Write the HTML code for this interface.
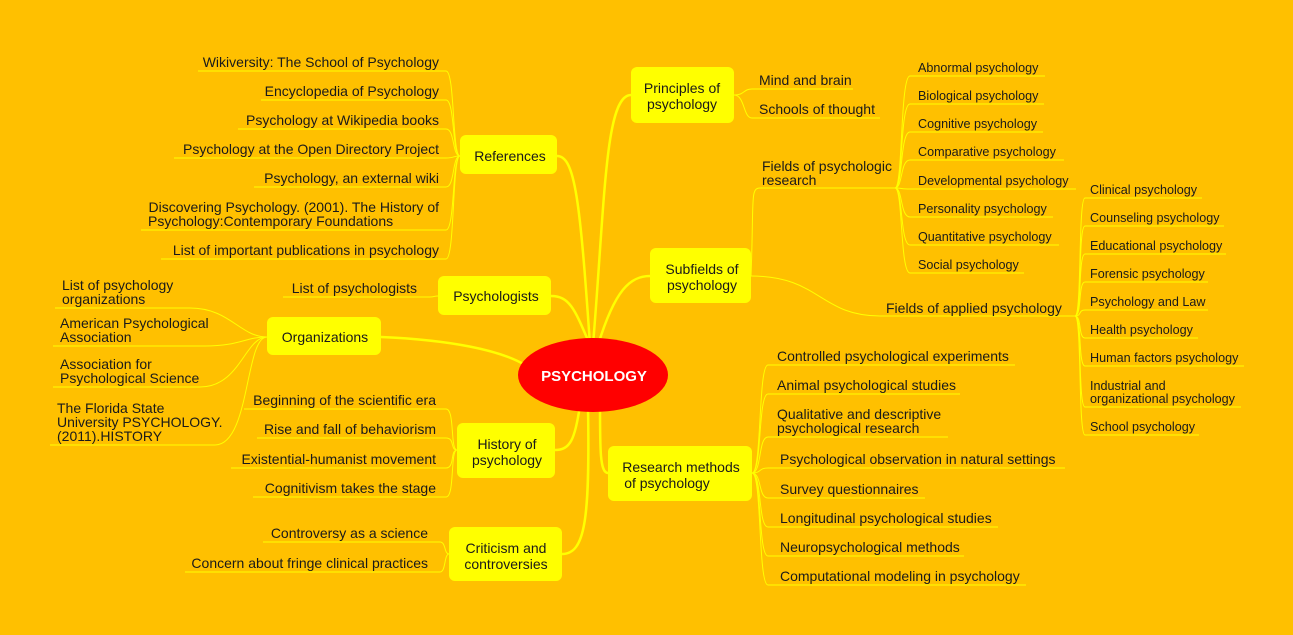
<!DOCTYPE html>
<html><head><meta charset="utf-8"><style>
html,body{margin:0;padding:0;background:#FFC000;}
svg{display:block;font-family:"Liberation Sans","DejaVu Sans",sans-serif;}
.t{font-size:14px;fill:#1a1a1a;}
.s{font-size:12.6px;fill:#1a1a1a;}
.l{stroke:#FFFF00;stroke-width:1;fill:none;}
.m{stroke:#FFFF00;stroke-width:2.5;fill:none;}
.b{fill:#FFFF00;}
</style></head><body>
<svg width="1293" height="635" viewBox="0 0 1293 635">
<rect width="1293" height="635" fill="#FFC000"/>
<path class="m" d="M593 345 C 605 200, 605 95, 631 95"/>
<path class="m" d="M590 345 C 580 200, 575 156, 557 156"/>
<path class="m" d="M598 345 C 615 290, 630 276, 650 276"/>
<path class="m" d="M590 345 C 575 310, 570 296, 551 296"/>
<path class="m" d="M381 337 C 450 340, 500 350, 525 365"/>
<path class="m" d="M580 405 C 575 440, 570 450, 555 450"/>
<path class="m" d="M600 405 C 600 450, 600 473, 608 473"/>
<path class="m" d="M588 408 C 590 520, 585 554, 562 554"/>
<rect class="b" x="631" y="67" width="103" height="56" rx="6"/>
<text class="t" x="682" y="93" text-anchor="middle">Principles of</text>
<text class="t" x="682" y="109" text-anchor="middle">psychology</text>
<rect class="b" x="460" y="135" width="97" height="39" rx="6"/>
<text class="t" x="510" y="161" text-anchor="middle">References</text>
<rect class="b" x="650" y="248" width="101" height="55" rx="6"/>
<text class="t" x="702" y="274" text-anchor="middle">Subfields of</text>
<text class="t" x="702" y="290" text-anchor="middle">psychology</text>
<rect class="b" x="438" y="276" width="113" height="39" rx="6"/>
<text class="t" x="496" y="301" text-anchor="middle">Psychologists</text>
<rect class="b" x="267" y="317" width="114" height="38" rx="6"/>
<text class="t" x="325" y="342" text-anchor="middle">Organizations</text>
<rect class="b" x="457" y="423" width="98" height="55" rx="6"/>
<text class="t" x="507" y="449" text-anchor="middle">History of</text>
<text class="t" x="507" y="465" text-anchor="middle">psychology</text>
<rect class="b" x="608" y="446" width="144" height="55" rx="6"/>
<text class="t" x="681" y="472" text-anchor="middle">Research methods</text>
<text class="t" x="667" y="488" text-anchor="middle">of psychology</text>
<rect class="b" x="449" y="527" width="113" height="54" rx="6"/>
<text class="t" x="506" y="553" text-anchor="middle">Criticism and</text>
<text class="t" x="506" y="569" text-anchor="middle">controversies</text>
<ellipse cx="593" cy="375" rx="75" ry="37" fill="#FF0000"/>
<text x="594" y="381" text-anchor="middle" fill="#fff" font-weight="bold" font-size="15">PSYCHOLOGY</text>

<g class="l">
<path d="M198 71 H446 C455 71,452 156,460 156"/>
<path d="M261 100 H446 C455 100,452 156,460 156"/>
<path d="M238 129 H446 C455 129,452 156,460 156"/>
<path d="M174 158 H446 C455 158,452 156,460 156"/>
<path d="M254 187 H446 C455 187,452 156,460 156"/>
<path d="M141 230 H446 C455 230,452 156,460 156"/>
<path d="M161 259 H446 C455 259,452 156,460 156"/>
</g>
<g class="t" text-anchor="end">
<text x="439" y="67">Wikiversity: The School of Psychology</text>
<text x="439" y="96">Encyclopedia of Psychology</text>
<text x="439" y="125">Psychology at Wikipedia books</text>
<text x="439" y="154">Psychology at the Open Directory Project</text>
<text x="439" y="183">Psychology, an external wiki</text>
<text x="439" y="212">Discovering Psychology. (2001). The History of</text>
<text x="439" y="255">List of important publications in psychology</text>
<text x="417" y="293">List of psychologists</text>
</g>
<text class="t" x="148" y="226">Psychology:Contemporary Foundations</text>
<path class="l" d="M283 297 H430 C434 297,434 296,438 296"/>

<g class="l">
<path d="M55 308 H190 C230 308,240 337,267 337"/>
<path d="M53 346 H205 C240 346,245 337,267 337"/>
<path d="M53 387 H200 C240 387,245 337,267 337"/>
<path d="M50 445 H215 C250 445,245 337,267 337"/>
</g>
<g class="t">
<text x="62" y="290">List of psychology</text>
<text x="62" y="304">organizations</text>
<text x="60" y="328">American Psychological</text>
<text x="60" y="342">Association</text>
<text x="60" y="369">Association for</text>
<text x="60" y="383">Psychological Science</text>
<text x="57" y="413">The Florida State</text>
<text x="57" y="427">University PSYCHOLOGY.</text>
<text x="57" y="441">(2011).HISTORY</text>
</g>

<g class="l">
<path d="M244 409 H446 C455 409,450 450,457 450"/>
<path d="M257 438 H446 C455 438,450 450,457 450"/>
<path d="M231 468 H446 C455 468,450 450,457 450"/>
<path d="M253 497 H446 C455 497,450 450,457 450"/>
<path d="M263 542 H440 C446 542,444 554,449 554"/>
<path d="M185 572 H440 C446 572,444 554,449 554"/>
</g>
<g class="t" text-anchor="end">
<text x="436" y="405">Beginning of the scientific era</text>
<text x="436" y="434">Rise and fall of behaviorism</text>
<text x="436" y="464">Existential-humanist movement</text>
<text x="436" y="493">Cognitivism takes the stage</text>
<text x="428" y="538">Controversy as a science</text>
<text x="428" y="568">Concern about fringe clinical practices</text>
</g>

<g class="l">
<path d="M734 95 C745 95,743 89,752 89 H853"/>
<path d="M734 95 C745 95,743 118,752 118 H880"/>
</g>
<g class="t">
<text x="759" y="85">Mind and brain</text>
<text x="759" y="114">Schools of thought</text>
</g>

<g class="l">
<path d="M751 276 C754 200,750 188,760 188 H895"/>
<path d="M751 276 C820 276,820 316,880 316 H1075"/>
<path d="M895 188 C903 188,900 76,910 76 H1045"/>
<path d="M895 188 C903 188,900 104,910 104 H1044"/>
<path d="M895 188 C903 188,900 132,910 132 H1043"/>
<path d="M895 188 C903 188,900 160,910 160 H1064"/>
<path d="M895 188 C903 188,900 189,910 189 H1076"/>
<path d="M895 188 C903 188,900 217,910 217 H1053"/>
<path d="M895 188 C903 188,900 245,910 245 H1059"/>
<path d="M895 188 C903 188,900 273,910 273 H1024"/>
<path d="M1075 316 C1082 316,1078 198,1085 198 H1202"/>
<path d="M1075 316 C1082 316,1078 226,1085 226 H1224"/>
<path d="M1075 316 C1082 316,1078 254,1085 254 H1226"/>
<path d="M1075 316 C1082 316,1078 282,1085 282 H1208"/>
<path d="M1075 316 C1082 316,1078 310,1085 310 H1208"/>
<path d="M1075 316 C1082 316,1078 338,1085 338 H1198"/>
<path d="M1075 316 C1082 316,1078 366,1085 366 H1244"/>
<path d="M1075 316 C1082 316,1078 407,1085 407 H1241"/>
<path d="M1075 316 C1082 316,1078 435,1085 435 H1199"/>
</g>
<g class="t">
<text x="762" y="171">Fields of psychologic</text>
<text x="762" y="185">research</text>
<text x="886" y="313">Fields of applied psychology</text>
</g>
<g class="s">
<text x="918" y="72">Abnormal psychology</text>
<text x="918" y="100">Biological psychology</text>
<text x="918" y="128">Cognitive psychology</text>
<text x="918" y="156">Comparative psychology</text>
<text x="918" y="185">Developmental psychology</text>
<text x="918" y="213">Personality psychology</text>
<text x="918" y="241">Quantitative psychology</text>
<text x="918" y="269">Social psychology</text>
<text x="1090" y="194">Clinical psychology</text>
<text x="1090" y="222">Counseling psychology</text>
<text x="1090" y="250">Educational psychology</text>
<text x="1090" y="278">Forensic psychology</text>
<text x="1090" y="306">Psychology and Law</text>
<text x="1090" y="334">Health psychology</text>
<text x="1090" y="362">Human factors psychology</text>
<text x="1090" y="390">Industrial and</text>
<text x="1090" y="403">organizational psychology</text>
<text x="1090" y="431">School psychology</text>
</g>

<g class="l">
<path d="M752 473 C762 473,758 365,768 365 H1015"/>
<path d="M752 473 C762 473,758 394,768 394 H960"/>
<path d="M752 473 C762 473,758 437,768 437 H948"/>
<path d="M752 473 C762 473,758 468,768 468 H1065"/>
<path d="M752 473 C762 473,758 498,768 498 H925"/>
<path d="M752 473 C762 473,758 527,768 527 H998"/>
<path d="M752 473 C762 473,758 556,768 556 H964"/>
<path d="M752 473 C762 473,758 585,768 585 H1026"/>
</g>
<g class="t">
<text x="777" y="361">Controlled psychological experiments</text>
<text x="777" y="390">Animal psychological studies</text>
<text x="777" y="419">Qualitative and descriptive</text>
<text x="777" y="433">psychological research</text>
<text x="780" y="464">Psychological observation in natural settings</text>
<text x="780" y="494">Survey questionnaires</text>
<text x="780" y="523">Longitudinal psychological studies</text>
<text x="780" y="552">Neuropsychological methods</text>
<text x="780" y="581">Computational modeling in psychology</text>
</g>
</svg>
</body></html>
